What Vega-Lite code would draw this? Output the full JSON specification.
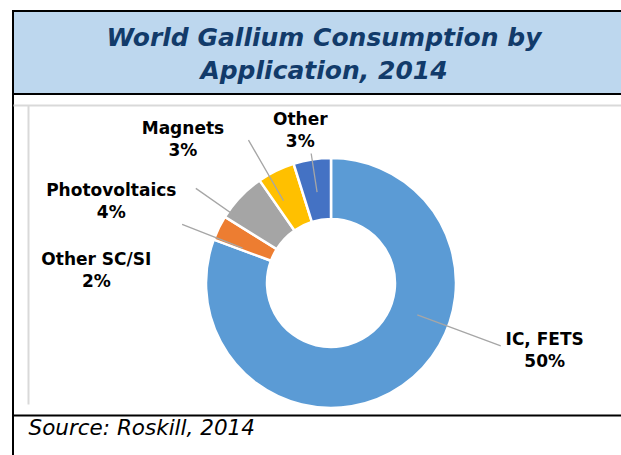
{
  "$schema": "https://vega.github.io/schema/vega-lite/v6.json",
  "padding": {"left": 12, "top": 10, "right": 0, "bottom": 0},
  "background": "white",
  "config": {"view": {"stroke": null}},
  "datasets": {
    "pie": [
      {"cat": "IC, FETS", "value": 50, "ord": 1, "label": "IC, FETS\n50%"},
      {"cat": "Other SC/SI", "value": 2, "ord": 2, "label": "Other SC/SI\n2%"},
      {"cat": "Photovoltaics", "value": 4, "ord": 3, "label": "Photovoltaics\n4%"},
      {"cat": "Magnets", "value": 3, "ord": 4, "label": "Magnets\n3%"},
      {"cat": "Other", "value": 3, "ord": 5, "label": "Other\n3%"}
    ]
  },
  "spacing": 0,
  "bounds": "flush",
  "vconcat": [
    {
      "width": 612, "height": 83,
      "view": {"stroke": "black", "strokeWidth": 2, "fill": "#BDD7EE"},
      "data": {"values": [{"t": "World Gallium Consumption by\nApplication, 2014"}]},
      "mark": {"type": "text", "font": "DejaVu Sans", "fontSize": 25, "fontWeight": "bold", "fontStyle": "italic", "color": "#123B6A", "lineBreak": "\n", "lineHeight": 33, "align": "center", "baseline": "middle", "dx": 5, "dy": -15},
      "encoding": {"text": {"field": "t"}}
    },
    {
      "width": 636, "height": 378,
      "view": {"stroke": "black", "strokeWidth": 2},
      "data": {"name": "pie"},
      "layer": [
        {
          "mark": {"type": "point", "opacity": 0},
          "encoding": {
            "x": {"field": "value", "type": "quantitative",
              "axis": {"orient": "bottom", "offset": -57, "domain": true, "domainColor": "black", "domainWidth": 2, "ticks": false, "labels": false, "grid": false,
                "title": "Source: Roskill, 2014", "titleAnchor": "start", "titleAlign": "left", "titleBaseline": "alphabetic", "titleX": 15, "titleY": 19,
                "titleFont": "DejaVu Sans", "titleFontSize": 21.5, "titleFontStyle": "italic", "titleFontWeight": "normal", "titleColor": "black"}},
            "y": {"field": "ord", "type": "quantitative",
              "scale": {"domain": [1, 5], "range": [310, 11], "zero": false, "nice": false},
              "axis": {"orient": "left", "offset": -15, "domain": true, "domainColor": "#D9D9D9", "domainWidth": 2, "ticks": false, "labels": false,
                "grid": true, "values": [5], "gridColor": "#D9D9D9", "gridWidth": 2, "gridOpacity": 1, "title": null}}
          }
        },
        {
          "mark": {"type": "arc", "radius": 125, "radius2": 64, "stroke": "white", "strokeWidth": 2.5},
          "encoding": {
            "theta": {"field": "value", "type": "quantitative", "stack": true},
            "order": {"field": "ord", "type": "quantitative"},
            "color": {"field": "cat", "type": "nominal", "legend": null,
              "scale": {"domain": ["IC, FETS", "Other SC/SI", "Photovoltaics", "Magnets", "Other"], "range": ["#5B9BD5", "#ED7D31", "#A5A5A5", "#FFC000", "#4472C4"]}}
          }
        },
        {
          "transform": [{"stack": "value", "groupby": [], "sort": [{"field": "ord", "order": "ascending"}], "as": ["v0", "v1"]}, {"filter": "datum.cat === 'IC, FETS'"}],
          "mark": {"type": "arc", "radius": 181, "radius2": 92, "thetaOffset": 1.925, "theta2Offset": 1.925, "filled": false, "color": "#A6A6A6", "strokeWidth": 1.3},
          "encoding": {"theta": {"field": "v0", "type": "quantitative", "stack": null}, "theta2": {"field": "v0"}}
        },
        {
          "transform": [{"stack": "value", "groupby": [], "sort": [{"field": "ord", "order": "ascending"}], "as": ["v0", "v1"]}, {"filter": "datum.cat === 'Other SC/SI'"}],
          "mark": {"type": "arc", "radius": 160, "radius2": 95, "thetaOffset": 0.0205, "theta2Offset": 0.0205, "filled": false, "color": "#A6A6A6", "strokeWidth": 1.3},
          "encoding": {"theta": {"field": "v0", "type": "quantitative", "stack": null}, "theta2": {"field": "v0"}}
        },
        {
          "transform": [{"stack": "value", "groupby": [], "sort": [{"field": "ord", "order": "ascending"}], "as": ["v0", "v1"]}, {"filter": "datum.cat === 'Photovoltaics'"}],
          "mark": {"type": "arc", "radius": 165, "radius2": 95, "thetaOffset": 0.0535, "theta2Offset": 0.0535, "filled": false, "color": "#A6A6A6", "strokeWidth": 1.3},
          "encoding": {"theta": {"field": "v0", "type": "quantitative", "stack": null}, "theta2": {"field": "v0"}}
        },
        {
          "transform": [{"stack": "value", "groupby": [], "sort": [{"field": "ord", "order": "ascending"}], "as": ["v0", "v1"]}, {"filter": "datum.cat === 'Magnets'"}],
          "mark": {"type": "arc", "radius": 165, "radius2": 95, "thetaOffset": 0.0844, "theta2Offset": 0.0844, "filled": false, "color": "#A6A6A6", "strokeWidth": 1.3},
          "encoding": {"theta": {"field": "v0", "type": "quantitative", "stack": null}, "theta2": {"field": "v0"}}
        },
        {
          "transform": [{"stack": "value", "groupby": [], "sort": [{"field": "ord", "order": "ascending"}], "as": ["v0", "v1"]}, {"filter": "datum.cat === 'Other'"}],
          "mark": {"type": "arc", "radius": 131, "radius2": 92, "thetaOffset": 0.1521, "theta2Offset": 0.1521, "filled": false, "color": "#A6A6A6", "strokeWidth": 1.3},
          "encoding": {"theta": {"field": "v0", "type": "quantitative", "stack": null}, "theta2": {"field": "v0"}}
        },
        {"mark": {"type": "text", "radius": 150, "dx": 128, "dy": -66, "font": "DejaVu Sans", "fontSize": 17, "fontWeight": "bold", "color": "black", "lineBreak": "\n", "lineHeight": 22, "align": "center", "baseline": "middle"},
         "encoding": {"theta": {"field": "value", "type": "quantitative", "stack": true}, "order": {"field": "ord", "type": "quantitative"}, "detail": {"field": "cat"}, "text": {"condition": {"test": "datum.cat === 'IC, FETS'", "field": "label"}, "value": ""}}},
        {"mark": {"type": "text", "radius": 150, "dx": -100, "dy": 43, "font": "DejaVu Sans", "fontSize": 17, "fontWeight": "bold", "color": "black", "lineBreak": "\n", "lineHeight": 22, "align": "center", "baseline": "middle"},
         "encoding": {"theta": {"field": "value", "type": "quantitative", "stack": true}, "order": {"field": "ord", "type": "quantitative"}, "detail": {"field": "cat"}, "text": {"condition": {"test": "datum.cat === 'Other SC/SI'", "field": "label"}, "value": ""}}},
        {"mark": {"type": "text", "radius": 150, "dx": -111, "dy": 11, "font": "DejaVu Sans", "fontSize": 17, "fontWeight": "bold", "color": "black", "lineBreak": "\n", "lineHeight": 22, "align": "center", "baseline": "middle"},
         "encoding": {"theta": {"field": "value", "type": "quantitative", "stack": true}, "order": {"field": "ord", "type": "quantitative"}, "detail": {"field": "cat"}, "text": {"condition": {"test": "datum.cat === 'Photovoltaics'", "field": "label"}, "value": ""}}},
        {"mark": {"type": "text", "radius": 150, "dx": -82, "dy": -19, "font": "DejaVu Sans", "fontSize": 17, "fontWeight": "bold", "color": "black", "lineBreak": "\n", "lineHeight": 22, "align": "center", "baseline": "middle"},
         "encoding": {"theta": {"field": "value", "type": "quantitative", "stack": true}, "order": {"field": "ord", "type": "quantitative"}, "detail": {"field": "cat"}, "text": {"condition": {"test": "datum.cat === 'Magnets'", "field": "label"}, "value": ""}}},
        {"mark": {"type": "text", "radius": 150, "dx": -8, "dy": -15, "font": "DejaVu Sans", "fontSize": 17, "fontWeight": "bold", "color": "black", "lineBreak": "\n", "lineHeight": 22, "align": "center", "baseline": "middle"},
         "encoding": {"theta": {"field": "value", "type": "quantitative", "stack": true}, "order": {"field": "ord", "type": "quantitative"}, "detail": {"field": "cat"}, "text": {"condition": {"test": "datum.cat === 'Other'", "field": "label"}, "value": ""}}}
      ]
    }
  ]
}
